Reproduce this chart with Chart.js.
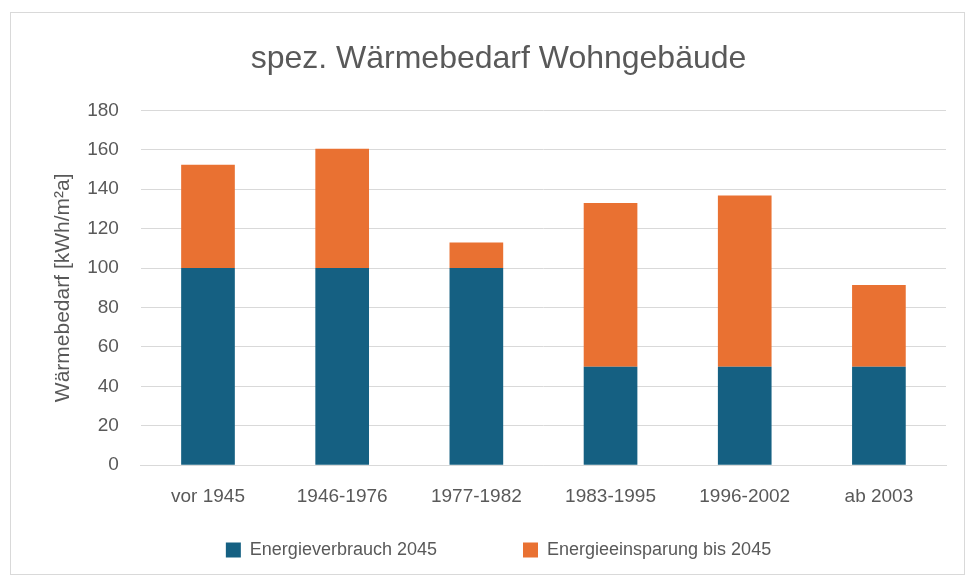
<!DOCTYPE html>
<html>
<head>
<meta charset="utf-8">
<script src="https://cdn.jsdelivr.net/npm/chart.js@4"></script>
<style>
  body { margin: 0; background: #fff; }
  #rahmen { position: absolute; left: 10px; top: 12px; width: 955px; height: 563px; border: 1px solid #d9d9d9; box-sizing: border-box; }
</style>
</head>
<body>
<div id="rahmen"><canvas id="myChart"></canvas></div>
<script>
// Kategorien und Werte
const baujahre = ["vor 1945", "1946-1976", "1977-1982", "1983-1995", "1996-2002", "ab 2003"];
const verbrauch2045 = [100, 100, 100, 50, 50, 50];
const einsparung2045 = [52.4, 60.5, 13, 83, 86.8, 41.4];

const grau = "#595959";
const schrift = "'Liberation Sans', Arial, sans-serif";

const config = {
  type: "bar",
  data: {
    labels: baujahre,
    datasets: [
      { label: "Energieverbrauch 2045", data: verbrauch2045, backgroundColor: "#156082", barPercentage: 0.8, categoryPercentage: 0.5 },
      { label: "Energieeinsparung bis 2045", data: einsparung2045, backgroundColor: "#E97132", barPercentage: 0.8, categoryPercentage: 0.5 },
    ],
  },
  options: {
    responsive: true,
    maintainAspectRatio: false,
    animation: false,
    layout: { padding: { left: 40, right: 18, top: 10, bottom: 5 } },
    plugins: {
      title: {
        display: true,
        text: "spez. Wärmebedarf Wohngebäude",
        color: grau,
        font: { family: schrift, size: 32, weight: "normal" },
        padding: { top: 17, bottom: 32 },
      },
      legend: {
        position: "bottom",
        labels: {
          color: grau,
          font: { family: schrift, size: 18 },
          boxWidth: 15,
          boxHeight: 15,
          padding: 21,
          // etwas mehr Abstand zwischen den beiden Einträgen
          generateLabels: (chart) =>
            Chart.defaults.plugins.legend.labels.generateLabels(chart).map((l, i) =>
              i === 0 ? { ...l, text: l.text + " ".repeat(13) } : l
            ),
        },
      },
      tooltip: { enabled: false },
    },
    scales: {
      x: {
        stacked: true,
        grid: { display: false },
        border: { color: "#d9d9d9" },
        ticks: { color: grau, font: { family: schrift, size: 19 }, padding: 12 },
      },
      y: {
        stacked: true,
        min: 0,
        max: 180,
        ticks: { stepSize: 20, color: grau, font: { family: schrift, size: 19 }, padding: 22 },
        grid: { color: "#d9d9d9", drawTicks: false },
        border: { display: false },
        title: {
          display: true,
          text: "Wärmebedarf [kWh/m²a]",
          color: grau,
          font: { family: schrift, size: 21 },
          padding: { top: 0, bottom: -11 },
        },
      },
    },
  },
};

new Chart(document.getElementById("myChart"), config);
</script>
</body>
</html>
